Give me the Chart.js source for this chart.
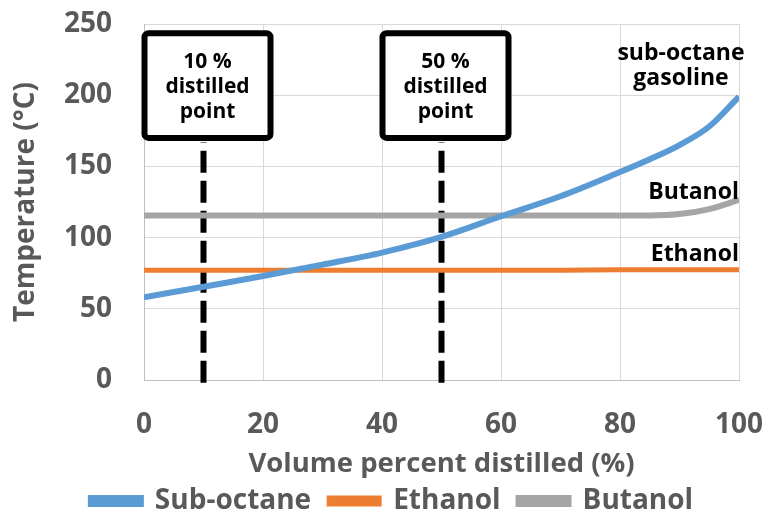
<!DOCTYPE html>
<html>
<head>
<meta charset="utf-8">
<script src="https://cdn.jsdelivr.net/npm/chart.js@4"></script>
<style>
  body { margin: 0; background: #fff; }
  #wrap { width: 769px; height: 519px; }
</style>
</head>
<body>
<div id="wrap"><canvas id="chart" width="769" height="519"></canvas></div>
<script>
const xPct = [0, 10, 20, 30, 40, 50, 60, 70, 80, 85, 90, 95, 100];
const subOctane = [58, 65.5, 73, 81, 89.5, 100.5, 115, 129, 146, 155, 165, 178, 199];
const ethanol = [77, 77, 77, 77, 77, 77, 77, 77, 77.5, 77.5, 77.5, 77.5, 77.5];
const butanol = [115.5, 115.5, 115.5, 115.5, 115.5, 115.5, 115.5, 115.5, 115.5, 115.5, 116.5, 120, 126.5];

const markerX = [10, 50];
const markerText = [["10 %", "distilled", "point"], ["50 %", "distilled", "point"]];
const markerRange = [-2, 167];   // dashed line from / to (°C)
const boxRange = [170, 243.5];   // label box bottom / top (°C)

const seriesLabels = ["sub-octane|gasoline", "Butanol", "Ethanol"];
const seriesLabelY = [[229.5, 212], [132], [88]];

const FONT = "'Open Sans', 'Noto Sans', sans-serif";
const GREY = "#595959";

function pts(ys) {
  return xPct.map((x, i) => ({ x: x, y: ys[i] }));
}

const datasets = [
  { label: "Sub-octane", data: pts(subOctane), borderColor: "#5B9BD5", backgroundColor: "#5B9BD5", borderWidth: 6, cubicInterpolationMode: "monotone" },
  { label: "Ethanol", data: pts(ethanol), borderColor: "#ED7D31", backgroundColor: "#ED7D31", borderWidth: 5 },
  { label: "Butanol", data: pts(butanol), borderColor: "#A5A5A5", backgroundColor: "#A5A5A5", borderWidth: 6, cubicInterpolationMode: "monotone" }
];
markerX.forEach(x => {
  datasets.push({
    label: "_marker",
    data: [{ x: x, y: markerRange[0] }, { x: x, y: markerRange[1] }],
    borderColor: "#000",
    borderWidth: 6,
    borderDash: [22, 8],
    clip: false
  });
});

const boxPlugin = {
  id: "boxes",
  afterDatasetsDraw(chart) {
    const ctx = chart.ctx;
    const xs = chart.scales.x, ys = chart.scales.y;
    ctx.save();
    markerX.forEach((mx, i) => {
      const cx = xs.getPixelForValue(mx) + 4;
      const top = ys.getPixelForValue(boxRange[1]);
      const bot = ys.getPixelForValue(boxRange[0]);
      const w = 126;
      ctx.beginPath();
      ctx.roundRect(cx - w / 2, top, w, bot - top, 4);
      ctx.fillStyle = "#fff";
      ctx.fill();
      ctx.lineWidth = 6;
      ctx.strokeStyle = "#000";
      ctx.stroke();
      ctx.fillStyle = "#000";
      ctx.font = "bold 21px " + FONT;
      ctx.textAlign = "center";
      ctx.textBaseline = "middle";
      markerText[i].forEach((t, j) => {
        ctx.fillText(t, cx, top + 29 + j * 25);
      });
    });
    // series labels
    ctx.font = "bold 23px " + FONT;
    ctx.fillStyle = "#000";
    ctx.textBaseline = "middle";
    const right = xs.getPixelForValue(100);
    seriesLabels.forEach((s, i) => {
      const lines = s.split("|");
      lines.forEach((t, j) => {
        const y = ys.getPixelForValue(seriesLabelY[i][j]);
        if (lines.length > 1) {
          ctx.textAlign = "center";
          ctx.fillText(t, right - 58, y);
        } else {
          ctx.textAlign = "right";
          ctx.fillText(t, right, y);
        }
      });
    });
    ctx.restore();
  }
};

new Chart(document.getElementById("chart"), {
  type: "line",
  data: { datasets: datasets },
  plugins: [boxPlugin],
  options: {
    responsive: false,
    animation: false,
    layout: { padding: { top: 24, right: 30, left: 45, bottom: -6 } },
    elements: { point: { radius: 0 }, line: { tension: 0 } },
    plugins: {
      tooltip: { enabled: false },
      legend: {
        position: "bottom",
        labels: {
          filter: item => item.text !== "_marker",
          boxWidth: 50,
          boxHeight: 6,
          padding: 18,
          color: GREY,
          font: { family: FONT, size: 28, weight: "bold" }
        }
      }
    },
    scales: {
      x: {
        type: "linear",
        min: 0,
        max: 100,
        ticks: { stepSize: 20, color: GREY, padding: 28, font: { family: FONT, size: 28, weight: "bold" } },
        grid: { color: "#d9d9d9", drawTicks: false },
        border: { color: "#bfbfbf" },
        title: { display: true, text: "Volume percent distilled (%)", color: GREY, padding: { top: 0, bottom: -12 }, font: { family: FONT, size: 27.5, weight: "bold" } },
        afterFit: s => { s.height = 89; s.paddingLeft = 0; s.paddingRight = 0; }
      },
      y: {
        min: 0,
        max: 250,
        ticks: { stepSize: 50, color: GREY, padding: 32, font: { family: FONT, size: 28, weight: "bold" } },
        grid: { color: "#d9d9d9", drawTicks: false },
        border: { color: "#bfbfbf" },
        title: { display: true, text: "Temperature (°C)", color: GREY, padding: { top: -36, bottom: 0 }, font: { family: FONT, size: 28, weight: "bold" } },
        afterFit: s => { s.width = 99; s.paddingTop = 0; s.paddingBottom = 0; }
      }
    }
  }
});
</script>
</body>
</html>
